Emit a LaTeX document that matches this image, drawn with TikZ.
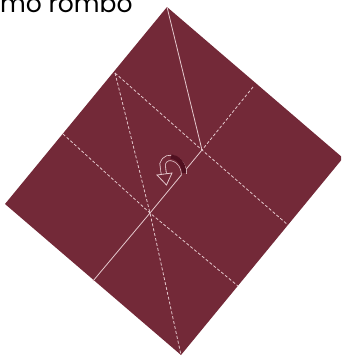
\documentclass[tikz,border=0pt]{standalone}
\usepackage{fontspec}
\newfontfamily\pop{Poppins}
\definecolor{paper}{RGB}{115,41,56}
\definecolor{crease}{RGB}{228,200,205}
\definecolor{darkband}{RGB}{80,16,32}
\begin{document}
\begin{tikzpicture}[x=1pt,y=-1pt,
  fold/.style={draw=crease, line width=0.8pt},
  valley/.style={draw=crease, line width=0.8pt, dash pattern=on 3pt off 2pt},
  titletext/.style={anchor=base west, inner sep=0pt, font=\pop\fontsize{25}{28}\selectfont}]
\useasboundingbox (0,0) rectangle (341,356);
\begin{scope}
\clip (0,0) rectangle (341,356);
% corners
\coordinate (T) at (167,7);
\coordinate (R) at (343,158);
\coordinate (B) at (181,355);
\coordinate (L) at (5,204);
% edge points
\coordinate (A) at (115,73);
\coordinate (UL2) at (63,134);
\coordinate (UR) at (253,87);
\coordinate (LL) at (93,281);
\coordinate (LR1) at (288,225);
\coordinate (LR2) at (238,286);
% intersections
\coordinate (P1) at (202,150);
\coordinate (P2) at (150,213);
\fill[paper] (T) -- (R) -- (B) -- (L) -- cycle;
% creases
\draw[valley] (A) -- (P1) -- (LR1);
\draw[valley] (UR) -- (P1);
\draw[valley] (UL2) -- (P2) -- (LR2);
\draw[valley] (A) -- (P2) -- (B);
\draw[fold] (T) -- (P1);
\draw[fold] (P1) -- (P2) -- (LL);
% turn-over symbol
\draw[crease, line width=6pt] (184,174) .. controls (184,159) and (166,152) .. (162.5,164) -- (164,175);
\draw[paper, line width=4.4pt] (184,174.8) .. controls (184,159) and (166,152) .. (162.5,164) -- (164,176);
\draw[darkband, line width=4.4pt] (184,173) .. controls (184,163) and (177,157) .. (171,156.5);
\filldraw[fill=paper, draw=crease, line width=0.8pt] (157,175) -- (172,173) -- (166.5,185) -- cycle;
\end{scope}
\node[titletext] (title) at (0,12.5) {mo rombo};
\end{tikzpicture}
\end{document}
